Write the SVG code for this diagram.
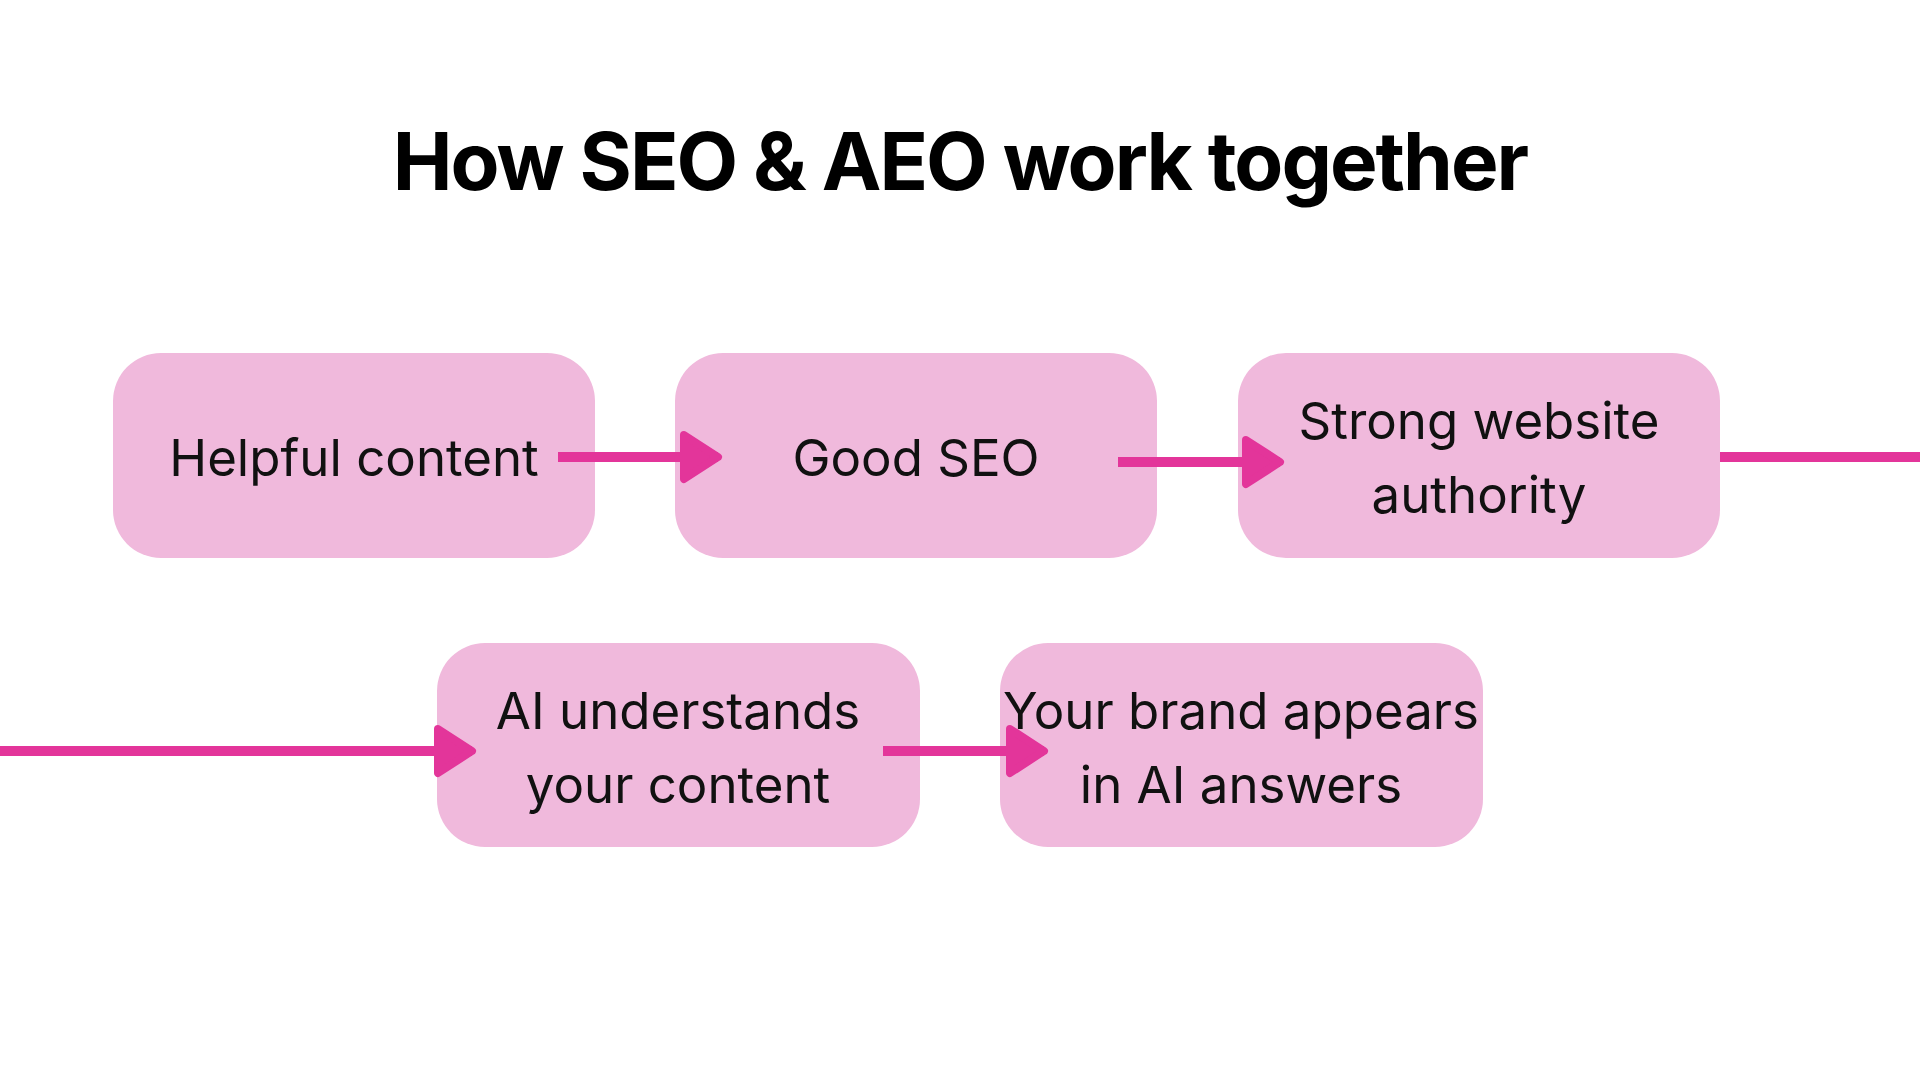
<svg xmlns="http://www.w3.org/2000/svg" width="1920" height="1080" viewBox="0 0 1920 1080">
<style>
.box{fill:#f0b9dc}
.t{font-family:Inter,"Liberation Sans",sans-serif;font-size:51px;fill:#111;text-anchor:middle;dominant-baseline:central}
.c{stroke:#e3359a;stroke-width:10;fill:none}
</style>
<defs>
<marker id="ah" markerUnits="userSpaceOnUse" markerWidth="50" markerHeight="60" viewBox="0 0 50 60" refX="40" refY="30" orient="auto">
<path d="M6,8 L40,30 L6,52 Z" fill="#e3359a" stroke="#e3359a" stroke-width="8" stroke-linejoin="round"/>
</marker>
</defs>
<rect width="1920" height="1080" fill="#fff"/>
<text x="960" y="160" text-anchor="middle" dominant-baseline="central" font-family="Inter,'Liberation Sans',sans-serif" font-weight="700" font-size="80" letter-spacing="-2" fill="#000">How SEO &amp; AEO work together</text>
<g id="n1"><rect class="box" x="113" y="353" width="482" height="205" rx="48"/><text class="t" x="354" y="457">Helpful content</text></g>
<g id="n2"><rect class="box" x="675" y="353" width="482" height="205" rx="48"/><text class="t" x="916" y="457">Good SEO</text></g>
<g id="n3"><rect class="box" x="1238" y="353" width="482" height="205" rx="48"/><text class="t" x="1479" y="420">Strong website</text><text class="t" x="1479" y="494">authority</text></g>
<g id="n4"><rect class="box" x="437" y="643" width="483" height="204" rx="48"/><text class="t" x="678" y="710">AI understands</text><text class="t" x="678" y="784">your content</text></g>
<g id="n5"><rect class="box" x="1000" y="643" width="483" height="204" rx="48"/><text class="t" x="1241" y="710">Your brand appears</text><text class="t" x="1241" y="784">in AI answers</text></g>
<g id="connectors">
<line class="c" x1="558" y1="457" x2="718" y2="457" marker-end="url(#ah)"/>
<line class="c" x1="1118" y1="462" x2="1280" y2="462" marker-end="url(#ah)"/>
<line class="c" x1="1720" y1="457" x2="1920" y2="457"/>
<line class="c" x1="0" y1="751" x2="472" y2="751" marker-end="url(#ah)"/>
<line class="c" x1="883" y1="751" x2="1044" y2="751" marker-end="url(#ah)"/>
</g>
</svg>
